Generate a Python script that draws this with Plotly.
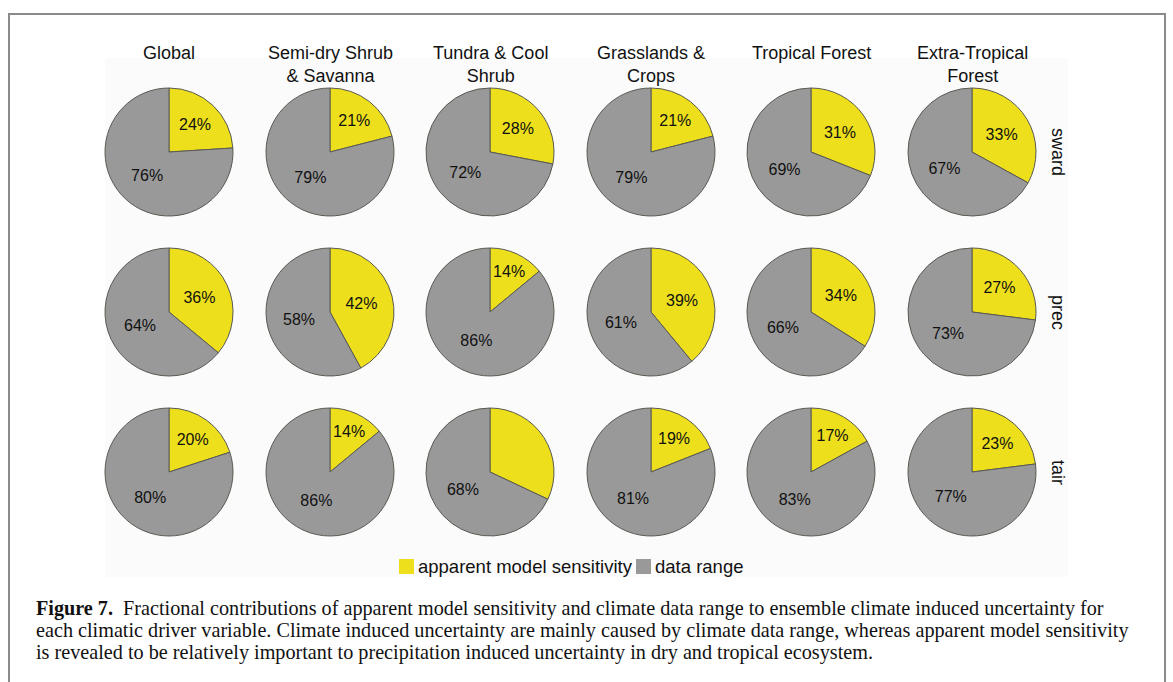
import plotly.graph_objects as go

# ---------------- data ----------------
biomes = ["Global", "Semi-dry Shrub<br>& Savanna", "Tundra & Cool<br>Shrub",
          "Grasslands &<br>Crops", "Tropical Forest", "Extra-Tropical<br>Forest"]
drivers = ["sward", "prec", "tair"]
series_names = ["apparent model sensitivity", "data range"]

sensitivity_sward = [24, 21, 28, 21, 31, 33]
sensitivity_prec = [36, 42, 14, 39, 34, 27]
sensitivity_tair = [20, 14, 32, 19, 17, 23]

data_range_sward = [76, 79, 72, 79, 69, 67]
data_range_prec = [64, 58, 86, 61, 66, 73]
data_range_tair = [80, 86, 68, 81, 83, 77]

# (driver, biome index) where the sensitivity label is not printed in the original
unlabelled_sensitivity = [("tair", 2)]

caption_lines = [
    "<b>Figure 7.</b>  Fractional contributions of apparent model sensitivity and climate data range to ensemble climate induced uncertainty for",
    "each climatic driver variable. Climate induced uncertainty are mainly caused by climate data range, whereas apparent model sensitivity",
    "is revealed to be relatively important to precipitation induced uncertainty in dry and tropical ecosystem.",
]

# ---------------- layout constants ----------------
W, H = 1173, 682
YELLOW = "#EDDF1B"
GREY = "#999999"
SANS = "Liberation Sans, Arial, sans-serif"
SERIF = "Liberation Serif, Times New Roman, serif"

col_x = [169, 330, 490, 651, 811, 972]
row_y = [152, 312, 472]
R = 64


def px(x):
    return x / W


def py(y):
    return 1 - y / H


sens = {"sward": sensitivity_sward, "prec": sensitivity_prec, "tair": sensitivity_tair}
rng = {"sward": data_range_sward, "prec": data_range_prec, "tair": data_range_tair}

fig = go.Figure()

for ri, drv in enumerate(drivers):
    for ci in range(len(biomes)):
        s, d = sens[drv][ci], rng[drv][ci]
        s_txt = "" if (drv, ci) in unlabelled_sensitivity else f"{s}%"
        cx, cy = col_x[ci], row_y[ri]
        fig.add_trace(go.Pie(
            labels=series_names,
            values=[s, d],
            text=[s_txt, f"{d}%"],
            textinfo="text",
            textposition="inside",
            insidetextorientation="horizontal",
            sort=False,
            direction="clockwise",
            rotation=0,
            marker=dict(colors=[YELLOW, GREY], line=dict(color="#5a5a52", width=1)),
            textfont=dict(family=SANS, size=16, color="#111111"),
            domain=dict(x=[px(cx - R), px(cx + R)], y=[py(cy + R), py(cy - R)]),
            showlegend=False,
            hovertemplate="%{label}: %{value}%<extra></extra>",
        ))

annotations = []
# column titles
for ci, b in enumerate(biomes):
    annotations.append(dict(
        x=px(col_x[ci]), y=py(41), xref="paper", yref="paper",
        text=b, showarrow=False, xanchor="center", yanchor="top",
        font=dict(family=SANS, size=18, color="#111111"), align="center",
    ))
# row labels
for ri, drv in enumerate(drivers):
    annotations.append(dict(
        x=px(1058), y=py(row_y[ri]), xref="paper", yref="paper",
        text=drv, showarrow=False, textangle=90, xanchor="center", yanchor="middle",
        font=dict(family=SANS, size=18, color="#111111"),
    ))
# legend text
leg_y = 566
annotations.append(dict(x=px(416), y=py(leg_y), xref="paper", yref="paper",
                        text=series_names[0], showarrow=False, xanchor="left", yanchor="middle",
                        font=dict(family=SANS, size=18.5, color="#111111")))
annotations.append(dict(x=px(653), y=py(leg_y), xref="paper", yref="paper",
                        text=series_names[1], showarrow=False, xanchor="left", yanchor="middle",
                        font=dict(family=SANS, size=18.5, color="#111111")))
# caption
for li, line in enumerate(caption_lines):
    annotations.append(dict(
        x=px(34), y=py(608 + 22 * li), xref="paper", yref="paper",
        text=line, showarrow=False, xanchor="left", yanchor="middle",
        font=dict(family=SERIF, size=20.2, color="#111111"), align="left",
    ))

shapes = [
    # figure frame
    dict(type="rect", xref="paper", yref="paper", x0=px(9), x1=px(1165), y0=py(700), y1=py(14),
         line=dict(color="#8a8a8a", width=2), fillcolor="rgba(0,0,0,0)", layer="above"),
    # light chart background
    dict(type="rect", xref="paper", yref="paper", x0=px(105), x1=px(1068), y0=py(577), y1=py(58),
         line=dict(width=0), fillcolor="#fbfbfb", layer="below"),
    # legend swatches
    dict(type="rect", xref="paper", yref="paper", x0=px(399), x1=px(414), y0=py(leg_y + 8), y1=py(leg_y - 7),
         line=dict(width=0), fillcolor=YELLOW),
    dict(type="rect", xref="paper", yref="paper", x0=px(636), x1=px(651), y0=py(leg_y + 8), y1=py(leg_y - 7),
         line=dict(width=0), fillcolor=GREY),
]

fig.update_layout(
    width=W, height=H,
    margin=dict(l=0, r=0, t=0, b=0),
    paper_bgcolor="white",
    plot_bgcolor="white",
    annotations=annotations,
    shapes=shapes,
    uniformtext=dict(minsize=16, mode="show"),
    showlegend=False,
)

fig.write_html("out.html")
